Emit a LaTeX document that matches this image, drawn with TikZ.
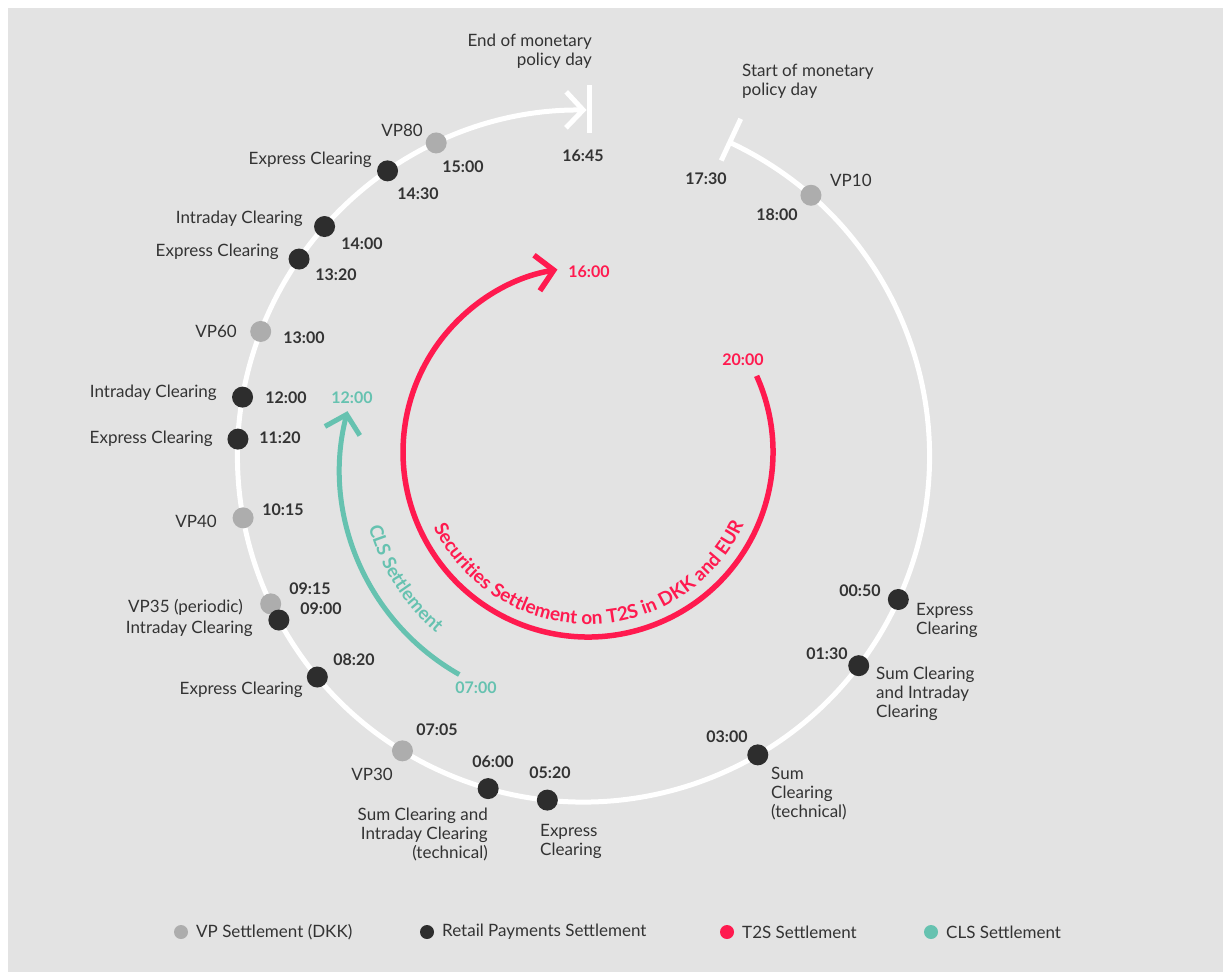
\documentclass[tikz,border=0pt]{standalone}
\usepackage{fontspec}
\setmainfont{Lato}
\usetikzlibrary{arrows.meta,decorations.text}
\definecolor{bg}{HTML}{E3E3E3}
\definecolor{vpgray}{HTML}{ADADAD}
\definecolor{rpdark}{HTML}{2D2D2D}
\definecolor{t2sred}{HTML}{FF1A4F}
\definecolor{clsteal}{HTML}{66C2B0}
\definecolor{txt}{HTML}{333333}
\tikzset{
  lbl/.style={font=\fontsize{17}{19}\selectfont, text=txt, inner sep=0pt},
  tm/.style={font=\bfseries\fontsize{16}{19}\selectfont, text=txt, inner sep=0pt},
  vpdot/.style={circle, fill=vpgray, minimum size=21pt, inner sep=0pt},
  rpdot/.style={circle, fill=rpdark, minimum size=21pt, inner sep=0pt},
  legdot/.style={circle, minimum size=14pt, inner sep=0pt},
  barb/.style={-{Straight Barb[length=17pt,width=36pt]}},
}
\begin{document}
\begin{tikzpicture}[x=1pt,y=1pt]
\useasboundingbox (0,0) rectangle (1223,-972);
\fill[white] (0,0) rectangle (1223,-972);
\fill[bg] (8,-8) rectangle (1223,-972);
\coordinate (C) at (583.5,-456);
\coordinate (R) at (588,-452);
\coordinate (T) at (575,-470);

% main white ring
\draw[white, line width=5pt, barb] ([shift={(65:346)}]C) arc[start angle=65, end angle=-270.5, radius=346];
\draw[white, line width=5pt] ([shift={(65:326)}]C) -- ([shift={(65:372)}]C);
\draw[white, line width=5pt] (589.5,-85) -- (589.5,-133);

% T2S arc
\draw[t2sred, line width=5.5pt, barb] ([shift={(24.3:185)}]R) arc[start angle=24.3, end angle=-260.5, radius=185];
\path[decorate, decoration={text along path, text color=t2sred, text align=center,
  text={|\bfseries\fontsize{19}{22}\selectfont|Securities Settlement on T2S in DKK and EUR}}]
  ([shift={(195:172)}]R) arc[start angle=195, end angle=346, radius=172];

% CLS arc
\draw[clsteal, line width=5pt, barb] ([shift={(240.5:235)}]T) arc[start angle=240.5, end angle=165.5, radius=235];
\path[decorate, decoration={text along path, text color=clsteal, text align=center,
  text={|\bfseries\fontsize{18.5}{21}\selectfont|CLS Settlement}}]
  ([shift={(189:214)}]T) arc[start angle=189, end angle=236, radius=214];

\node[tm, text=t2sred] (r1600) at (589,-272) {16:00};
\node[tm, text=t2sred] (r2000) at (743,-360) {20:00};
\node[tm, text=clsteal] (c1200) at (352,-398) {12:00};
\node[tm, text=clsteal] (c0700) at (476,-688) {07:00};

% top labels
\node[lbl, anchor=east, align=right] (endday) at (592,-51) {End of monetary\\policy day};
\node[lbl, anchor=west, align=left] (startday) at (742,-81) {Start of monetary\\policy day};
\node[tm] (t1645) at (583,-156) {16:45};
\node[tm] (t1730) at (706,-179) {17:30};

% dots
\node[vpdot] (d1800) at ([shift={(48.9:346)}]C) {};
\node[vpdot] (d1500) at ([shift={(115.2:346)}]C) {};
\node[rpdot] (d1430) at ([shift={(124.5:346)}]C) {};
\node[rpdot] (d1400) at ([shift={(138.45:346)}]C) {};
\node[rpdot] (d1320) at ([shift={(145.3:346)}]C) {};
\node[vpdot] (d1300) at ([shift={(158.9:346)}]C) {};
\node[rpdot] (d1200) at ([shift={(170.2:346)}]C) {};
\node[rpdot] (d1120) at ([shift={(177.2:346)}]C) {};
\node[vpdot] (d1015) at ([shift={(190.3:346)}]C) {};
\node[vpdot] (d0915) at ([shift={(205.3:346)}]C) {};
\node[rpdot] (d0900) at ([shift={(208.3:346)}]C) {};
\node[rpdot] (d0820) at ([shift={(219.7:346)}]C) {};
\node[vpdot] (d0705) at ([shift={(238.45:346)}]C) {};
\node[rpdot] (d0600) at ([shift={(254.0:346)}]C) {};
\node[rpdot] (d0520) at ([shift={(264.0:346)}]C) {};
\node[rpdot] (d0300) at ([shift={(300.25:346)}]C) {};
\node[rpdot] (d0130) at ([shift={(322.7:346)}]C) {};
\node[rpdot] (d0050) at ([shift={(335.5:346)}]C) {};

% labels around ring
\node[tm] (t1800) at (777,-215) {18:00};
\node[lbl, anchor=west] (l1800) at (830,-180) {VP10};
\node[lbl, anchor=east] (l1500) at (423,-130) {VP80};
\node[tm] (t1500) at (463,-167) {15:00};
\node[lbl, anchor=east] (l1430) at (372,-160) {Express Clearing};
\node[tm] (t1430) at (418,-194) {14:30};
\node[lbl, anchor=east] (l1400) at (303,-219) {Intraday Clearing};
\node[tm] (t1400) at (362,-244) {14:00};
\node[lbl, anchor=east] (l1320) at (279,-252) {Express Clearing};
\node[tm] (t1320) at (336,-275) {13:20};
\node[lbl, anchor=east] (l1300) at (237,-331) {VP60};
\node[tm] (t1300) at (304,-338) {13:00};
\node[lbl, anchor=east] (l1200) at (217,-393) {Intraday Clearing};
\node[tm] (t1200) at (286,-398) {12:00};
\node[lbl, anchor=east] (l1120) at (213,-439) {Express Clearing};
\node[tm] (t1120) at (280,-438) {11:20};
\node[lbl, anchor=east] (l1015) at (217,-521) {VP40};
\node[tm] (t1015) at (283,-510) {10:15};
\node[lbl, anchor=east] (l0915) at (243,-607) {VP35 (periodic)};
\node[lbl, anchor=east] (l0900) at (253,-629) {Intraday Clearing};
\node[tm] (t0915) at (310,-589) {09:15};
\node[tm] (t0900) at (321,-609) {09:00};
\node[tm] (t0820) at (354,-660) {08:20};
\node[lbl, anchor=east] (l0820) at (303,-690) {Express Clearing};
\node[tm] (t0705) at (437,-730) {07:05};
\node[lbl] (l0705) at (372,-774) {VP30};
\node[tm] (t0600) at (493,-762) {06:00};
\node[lbl, anchor=north east, align=right] (l0600) at (488,-808) {Sum Clearing and\\Intraday Clearing\\(technical)};
\node[tm] (t0520) at (550,-773) {05:20};
\node[lbl, anchor=north west, align=left] (l0520) at (540,-824) {Express\\Clearing};
\node[tm] (t0300) at (727,-737) {03:00};
\node[lbl, anchor=north west, align=left] (l0300) at (771,-767) {Sum\\Clearing\\(technical)};
\node[tm] (t0130) at (827,-654) {01:30};
\node[lbl, anchor=north west, align=left] (l0130) at (876,-667) {Sum Clearing\\and Intraday\\Clearing};
\node[tm] (t0050) at (860,-591) {00:50};
\node[lbl, anchor=north west, align=left] (l0050) at (916,-603) {Express\\Clearing};

% legend
\node[legdot, fill=vpgray] (g1) at (181,-932) {};
\node[lbl, anchor=west] (g1t) at (196,-932) {VP Settlement (DKK)};
\node[legdot, fill=rpdark] (g2) at (427,-932) {};
\node[lbl, anchor=west] (g2t) at (442,-932) {Retail Payments Settlement};
\node[legdot, fill=t2sred] (g3) at (727,-932) {};
\node[lbl, anchor=west] (g3t) at (742,-932) {T2S Settlement};
\node[legdot, fill=clsteal] (g4) at (931,-932) {};
\node[lbl, anchor=west] (g4t) at (946,-932) {CLS Settlement};
\end{tikzpicture}
\end{document}
